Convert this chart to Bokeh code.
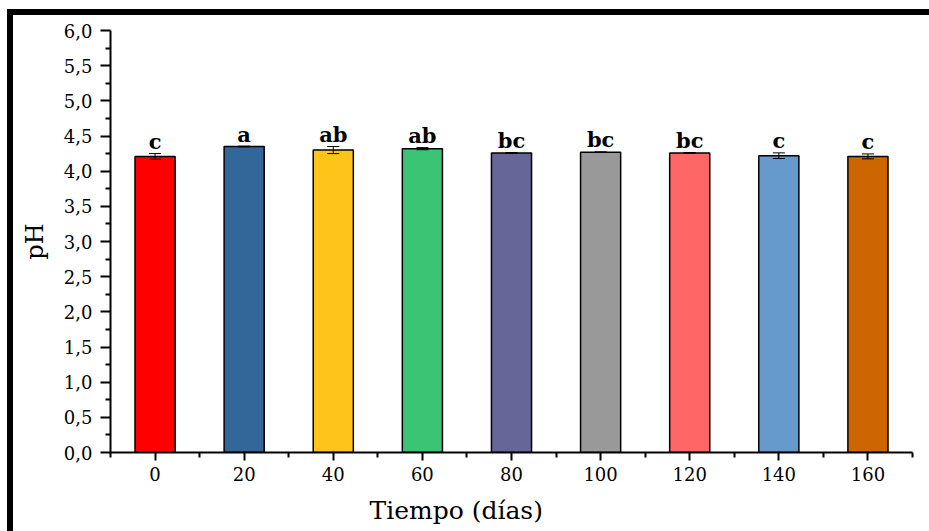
from bokeh.plotting import figure
from bokeh.models import FixedTicker, ColumnDataSource, Whisker, TeeHead, Title, Range1d
from bokeh.embed import file_html
from bokeh.resources import INLINE
from bokeh.core.properties import value

# ---- data ----
days = [0, 20, 40, 60, 80, 100, 120, 140, 160]
ph = [4.21, 4.35, 4.30, 4.32, 4.26, 4.27, 4.26, 4.22, 4.21]
ph_err = [0.04, 0.005, 0.05, 0.015, 0.005, 0.005, 0.005, 0.04, 0.035]
letters = ["c", "a", "ab", "ab", "bc", "bc", "bc", "c", "c"]
bar_colors = ["#FF0000", "#336699", "#FFC41A", "#3CC475", "#666699",
              "#999999", "#FF6666", "#6699CC", "#CC6600"]
x_minor = [-10, 10, 30, 50, 70, 90, 110, 130, 150, 170]
y_ticks = [0.0, 0.5, 1.0, 1.5, 2.0, 2.5, 3.0, 3.5, 4.0, 4.5, 5.0, 5.5, 6.0]
y_tick_labels = ["0,0", "0,5", "1,0", "1,5", "2,0", "2,5", "3,0",
                 "3,5", "4,0", "4,5", "5,0", "5,5", "6,0"]
y_minor = [0.25 + 0.5 * i for i in range(12)]
x_title = "Tiempo (días)"
y_title = "pH"

FONT = "DejaVu Serif"

src = ColumnDataSource(dict(
    x=days, ph=ph, color=bar_colors, letters=letters,
    upper=[v + e for v, e in zip(ph, ph_err)],
    lower=[v - e for v, e in zip(ph, ph_err)],
))

p = figure(width=922, height=522, x_range=Range1d(-10, 170), y_range=Range1d(0, 6),
           output_backend="svg", toolbar_location=None,
           min_border_left=97, min_border_top=15, min_border_right=23, min_border_bottom=85)
p.styles = {"margin-left": "7px", "margin-top": "9px",
            "border-top": "6px solid black", "border-left": "6px solid black"}

p.outline_line_color = None
p.xgrid.visible = False
p.ygrid.visible = False
p.background_fill_color = "white"
p.border_fill_color = "white"

p.vbar(x="x", top="ph", width=9, fill_color="color", line_color="black",
       line_width=1.5, source=src)

wh = Whisker(base="x", upper="upper", lower="lower", source=src, line_color="black",
             line_width=1, level="overlay",
             upper_head=TeeHead(size=12, line_color="black", line_width=1),
             lower_head=TeeHead(size=12, line_color="black", line_width=1))
p.add_layout(wh)

p.text(x="x", y="upper", text="letters", source=src, text_font=value(FONT),
       text_font_style="bold", text_font_size="21px", text_align="center",
       text_baseline="alphabetic", y_offset=-12, text_color="black")

# x axis
xa = p.xaxis[0]
xa.ticker = FixedTicker(ticks=days, minor_ticks=x_minor)
xa.axis_line_width = 2
xa.major_tick_line_width = 2
xa.minor_tick_line_width = 2
xa.major_tick_in = 0
xa.major_tick_out = 8
xa.minor_tick_in = 0
xa.minor_tick_out = 5
xa.major_label_standoff = 6
xa.major_label_text_font = FONT
xa.major_label_text_font_size = "18px"
xa.major_label_text_color = "black"

# y axis
ya = p.yaxis[0]
ya.ticker = FixedTicker(ticks=y_ticks, minor_ticks=y_minor)
ya.major_label_overrides = {t: l for t, l in zip(y_ticks, y_tick_labels)}
ya.axis_line_width = 2
ya.major_tick_line_width = 2
ya.minor_tick_line_width = 2
ya.major_tick_in = 0
ya.major_tick_out = 10
ya.minor_tick_in = 0
ya.minor_tick_out = 5
ya.major_label_standoff = 8
ya.major_label_text_font = FONT
ya.major_label_text_font_size = "18px"
ya.major_label_text_color = "black"
ya.axis_label = y_title
ya.axis_label_text_font = FONT
ya.axis_label_text_font_style = "normal"
ya.axis_label_text_font_size = "24px"
ya.axis_label_text_color = "black"
ya.axis_label_standoff = 12

p.add_layout(Title(text=x_title, align="left", offset=259, standoff=21,
                   text_font=FONT, text_font_size="25px", text_font_style="normal",
                   text_color="black"), "below")

open("out.html", "w").write(file_html(p, INLINE))
